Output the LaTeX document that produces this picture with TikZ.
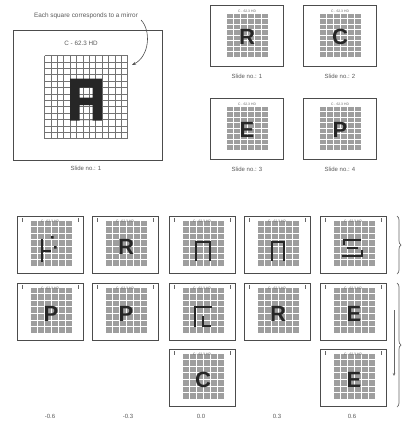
\documentclass[tikz,border=0pt]{standalone}
\usepackage{fontspec}
\setmainfont{Liberation Sans}
\usetikzlibrary{decorations.pathreplacing,arrows.meta}
\tikzset{
  frame/.style={draw=black!70,line width=0.8pt,inner sep=0pt,outer sep=0pt,anchor=north west},
  capt/.style={font=\fontsize{6}{7}\selectfont,text=black!65,inner sep=0pt},
  tinyt/.style={font=\fontsize{3.4}{4}\selectfont,text=black!60,inner sep=0pt},
  gridfill/.style={fill=black!38},
  gridw/.style={draw=white,line width=0.6pt},
  bigline/.style={draw=black!55,line width=0.45pt},
  letter/.style={font=\bfseries\fontsize{22}{22}\selectfont,text=black!85,inner sep=0pt},
  glyph/.style={draw=black!85,line width=2.6pt,line cap=rect},
}
\newcommand\trpanel[5]{%
  \node[frame,minimum width=73pt,minimum height=61pt] (#3) at (#1,#2) {};
  \fill[gridfill] (#1+16,#2+8) rectangle (#1+58,#2+52);
  \foreach \k in {0,...,6} \draw[gridw] (#1+16+\k*7,#2+8) -- (#1+16+\k*7,#2+52);
  \foreach \k in {0,...,8} \draw[gridw] (#1+16,#2+8+\k*5.5) -- (#1+58,#2+8+\k*5.5);
  \node[tinyt] (#3t) at (#1+37,#2+6) {C - 62.3 HD};
  \node[letter] (#3l) at (#1+37,#2+32) {#4};
  \node[capt] (#3c) at (#1+37,#2+71) {#5};
}
\newcommand\btpanel[4]{%
  \node[frame,minimum width=66pt,minimum height=57pt] (#3) at (#1,#2) {};
  \fill[gridfill] (#1+13,#2+4) rectangle (#1+55,#2+50);
  \foreach \k in {0,...,6} \draw[gridw] (#1+13+\k*7,#2+4) -- (#1+13+\k*7,#2+50);
  \foreach \k in {0,...,7} \draw[gridw] (#1+13,#2+4+\k*6.57) -- (#1+55,#2+4+\k*6.57);
  \node[tinyt] (#3t) at (#1+33,#2+5) {C - 62.3 HD};
  \draw[black!60,line width=0.5pt] (#1+5,#2+2) -- (#1+5,#2+6) (#1+61,#2+2) -- (#1+61,#2+6);
  \node[letter] (#3l) at (#1+34,#2+31) {#4};
}
\begin{document}
\begin{tikzpicture}[x=1pt,y=-1pt]
\useasboundingbox (0,0) rectangle (407,421);
% big panel
\node[frame,minimum width=149pt,minimum height=130pt] (big) at (13,30) {};
\node[capt,font=\fontsize{6.3}{7}\selectfont] (bigt) at (81,43) {C - 62.3 HD};
\foreach \i in {0,...,13} {
  \draw[bigline] (44.5+\i*6.4,55.5) -- (44.5+\i*6.4,138.7);
  \draw[bigline] (44.5,55.5+\i*6.4) -- (127.7,55.5+\i*6.4);
}
\fill[black!85,even odd rule] (70.1,78.5) rectangle (102.1,120.5)
  (79.7,87.5) rectangle (92.5,97.5) (79.7,105) rectangle (92.5,120.5);
\node[capt] (bigc) at (86,168) {Slide no.: 1};
\node[capt,font=\fontsize{6.4}{7}\selectfont] (note) at (86,16) {Each square corresponds to a mirror};
\coordinate (tip) at (132,65);
\draw[black!70,line width=0.6pt,-{Stealth[length=4pt,width=3pt]}]
  (141,20) .. controls (151,30) and (150,56) .. (tip);
% top-right panels
\trpanel{210}{5}{p1}{R}{Slide no.: 1}
\trpanel{303}{5}{p2}{C}{Slide no.: 2}
\trpanel{210}{98}{p3}{E}{Slide no.: 3}
\trpanel{303}{98}{p4}{P}{Slide no.: 4}
% bottom grid of panels
\btpanel{17}{216}{a1}{}
\btpanel{92}{216}{a2}{R}
\btpanel{169}{216}{a3}{}
\btpanel{244}{216}{a4}{}
\btpanel{320}{216}{a5}{}
\btpanel{17}{283}{b1}{P}
\btpanel{92}{283}{b2}{P}
\btpanel{169}{283}{b3}{}
\btpanel{244}{283}{b4}{R}
\btpanel{320}{283}{b5}{E}
\btpanel{169}{349}{c3}{C}
\btpanel{320}{349}{c5}{E}
% odd glyphs
\draw[glyph] (42,240) -- (42,261) (42,251) -- (50,251);
\fill[black!85] (51,236) rectangle (53.5,238.5) (54,246) rectangle (56.5,248.5);
\draw[glyph] (196,260) -- (196,242) -- (210,242) -- (210,260);
\draw[glyph,line width=2.2pt] (272,260) -- (272,242) -- (284,242) -- (284,260);
\draw[glyph] (344,244) -- (344,240) -- (360,240) (348,248) -- (357,248) (343,256) -- (362,256) -- (362,251);
\draw[glyph] (195,326) -- (195,307) -- (211,307) (203,317) -- (203,326) -- (210,326);
% labels
\node[capt] (l1) at (50,416) {-0.6};
\node[capt] (l2) at (128,416) {-0.3};
\node[capt] (l3) at (201,416) {0.0};
\node[capt] (l4) at (277,416) {0.3};
\node[capt] (l5) at (352,416) {0.6};
% braces and arrow
\coordinate (r1a) at (397,216); \coordinate (r1b) at (397,274);
\coordinate (r2a) at (397,283); \coordinate (r2b) at (397,407);
\draw[black!60,line width=0.7pt,decorate,decoration={brace,amplitude=4pt}] (r1a) -- (r1b);
\draw[black!60,line width=0.7pt,decorate,decoration={brace,amplitude=4pt}] (r2a) -- (r2b);
\coordinate (va) at (394,310); \coordinate (vb) at (394,376);
\draw[black!60,line width=0.6pt,-{Stealth[length=3pt,width=2.5pt]}] (va) -- (vb);
\end{tikzpicture}
\end{document}
